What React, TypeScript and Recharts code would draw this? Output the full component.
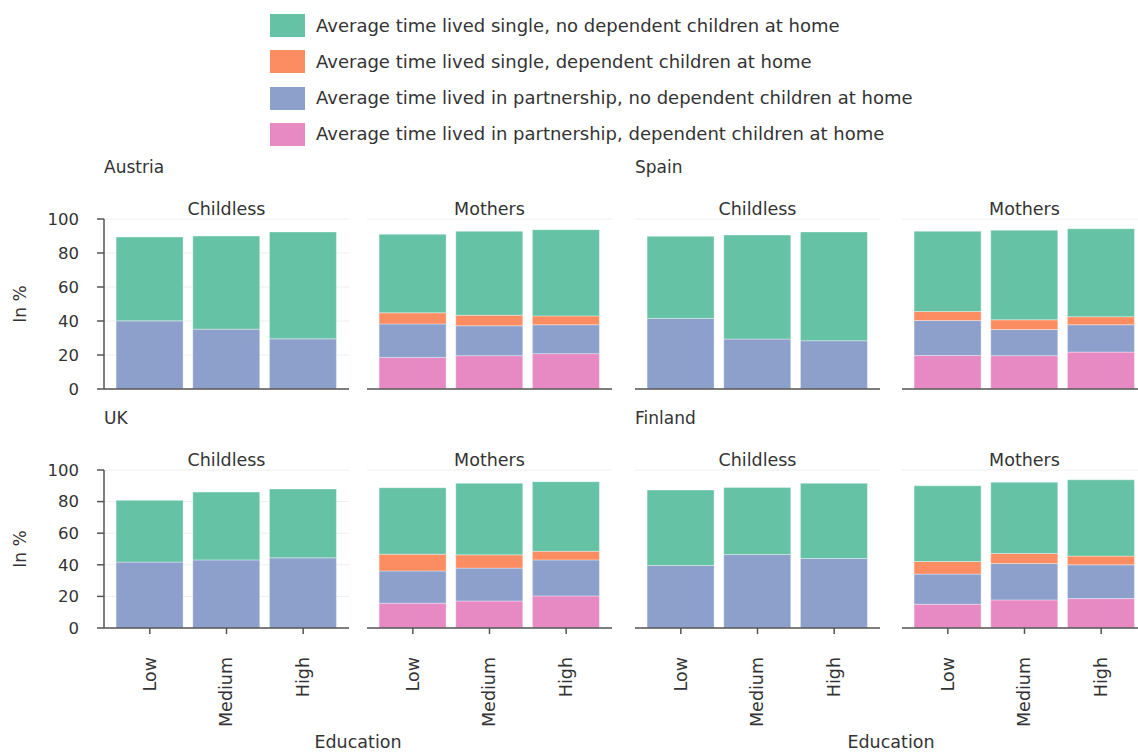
import React from "react";
import { BarChart, Bar, XAxis, YAxis, CartesianGrid } from "recharts";

const FONT = "'DejaVu Sans', sans-serif";
const TEXT = "#333333";
const AXIS = "#555555";

const categories = ["Low", "Medium", "High"];
const seriesNames = [
  "Average time lived single, no dependent children at home",
  "Average time lived single, dependent children at home",
  "Average time lived in partnership, no dependent children at home",
  "Average time lived in partnership, dependent children at home",
];
const seriesKeys = ["singleNoKids", "singleKids", "partnerNoKids", "partnerKids"];
const seriesColors = ["#66c2a5", "#fc8d62", "#8da0cb", "#e78ac3"];
const yTicks = [0, 20, 40, 60, 80, 100];

// Austria
const austriaChildlessPartnerKids = [0, 0, 0];
const austriaChildlessPartnerNoKids = [40.1, 35.2, 29.5];
const austriaChildlessSingleKids = [0, 0, 0];
const austriaChildlessSingleNoKids = [49.3, 54.8, 62.9];
const austriaMothersPartnerKids = [18.6, 19.6, 20.8];
const austriaMothersPartnerNoKids = [19.7, 17.6, 17.0];
const austriaMothersSingleKids = [6.5, 6.2, 5.2];
const austriaMothersSingleNoKids = [46.2, 49.4, 50.7];

// Spain
const spainChildlessPartnerKids = [0, 0, 0];
const spainChildlessPartnerNoKids = [41.5, 29.4, 28.4];
const spainChildlessSingleKids = [0, 0, 0];
const spainChildlessSingleNoKids = [48.3, 61.2, 64.0];
const spainMothersPartnerKids = [19.7, 19.6, 21.7];
const spainMothersPartnerNoKids = [20.6, 15.4, 16.1];
const spainMothersSingleKids = [5.3, 5.7, 4.7];
const spainMothersSingleNoKids = [47.2, 52.7, 51.8];

// UK
const ukChildlessPartnerKids = [0, 0, 0];
const ukChildlessPartnerNoKids = [41.7, 43.1, 44.4];
const ukChildlessSingleKids = [0, 0, 0];
const ukChildlessSingleNoKids = [39.1, 42.9, 43.6];
const ukMothersPartnerKids = [15.7, 17.1, 20.3];
const ukMothersPartnerNoKids = [20.4, 20.8, 22.8];
const ukMothersSingleKids = [10.6, 8.4, 5.5];
const ukMothersSingleNoKids = [42.1, 45.3, 44.0];

// Finland
const finlandChildlessPartnerKids = [0, 0, 0];
const finlandChildlessPartnerNoKids = [39.6, 46.5, 44.0];
const finlandChildlessSingleKids = [0, 0, 0];
const finlandChildlessSingleNoKids = [47.7, 42.5, 47.6];
const finlandMothersPartnerKids = [15.0, 17.8, 18.6];
const finlandMothersPartnerNoKids = [19.1, 23.0, 21.4];
const finlandMothersSingleKids = [8.0, 6.4, 5.5];
const finlandMothersSingleNoKids = [47.9, 45.0, 48.3];

function build(pk: number[], pnk: number[], sk: number[], snk: number[]) {
  return categories.map((c, i) => ({
    edu: c,
    partnerKids: pk[i],
    partnerNoKids: pnk[i],
    singleKids: sk[i],
    singleNoKids: snk[i],
  }));
}

const RotTick = (props: any) => {
  const { x, y, payload } = props;
  return (
    <text
      transform={`translate(${x},${y + 21}) rotate(-90)`}
      textAnchor="end"
      dy="0.33em"
      fontSize={17.5}
      fill={TEXT}
      fontFamily={FONT}
    >
      {payload.value}
    </text>
  );
};

function Panel(props: {
  data: any[];
  left: number;
  top: number;
  plotW: number;
  plotH: number;
  yLabels?: boolean;
  yLine?: boolean;
  xTicks?: boolean;
  title: string;
}) {
  const { data, left, top, plotW, plotH, yLabels, yLine, xTicks, title } = props;
  const mL = 100;
  const mT = 14;
  const mR = 4;
  const mB = xTicks ? 0 : 14;
  const xAxisH = xTicks ? 110 : 2;
  const chartW = plotW + mL + mR;
  const chartH = plotH + mT + xAxisH + mB;
  const stackOrder = [3, 2, 1, 0];
  return (
    <>
      <div
        style={{
          position: "absolute",
          left: left,
          width: plotW,
          top: top - 20,
          textAlign: "center",
          fontSize: 17.5,
          lineHeight: "20px",
          color: TEXT,
          fontFamily: FONT,
        }}
      >
        {title}
      </div>
      <div style={{ position: "absolute", left: left - mL, top: top - mT }}>
        <BarChart
          width={chartW}
          height={chartH}
          data={data}
          margin={{ top: mT, right: mR, left: yLabels ? 0 : mL, bottom: mB }}
          barCategoryGap="6%"
        >
          <CartesianGrid vertical={false} stroke="#eeeeee" strokeWidth={1} />
          <XAxis
            dataKey="edu"
            padding={{ left: 7.5, right: 7.5 }}
            height={xAxisH}
            interval={0}
            tick={xTicks ? <RotTick /> : false}
            tickLine={xTicks ? { stroke: AXIS, strokeWidth: 1.5 } : false}
            tickSize={6}
            axisLine={{ stroke: AXIS, strokeWidth: 1.5 }}
          />
          <YAxis
            domain={[0, 100]}
            ticks={yTicks}
            hide={!yLabels && !yLine}
            width={yLabels ? mL : 0}
            tick={yLabels ? { fontSize: 16.5, fill: TEXT, fontFamily: FONT } : false}
            tickLine={yLabels ? { stroke: AXIS, strokeWidth: 1.5 } : false}
            tickSize={7}
            tickMargin={18}
            axisLine={{ stroke: AXIS, strokeWidth: 1.5 }}
          />
          {stackOrder.map((si) => (
            <Bar
              key={seriesKeys[si]}
              dataKey={seriesKeys[si]}
              stackId="a"
              fill={seriesColors[si]}
              stroke="#ffffff"
              strokeOpacity={0.35}
              strokeWidth={1}
              isAnimationActive={false}
            />
          ))}
        </BarChart>
      </div>
    </>
  );
}

const label = (text: string, left: number, top: number, size = 17) => (
  <div
    style={{
      position: "absolute",
      left,
      top,
      fontSize: size,
      lineHeight: "20px",
      color: TEXT,
      fontFamily: FONT,
      whiteSpace: "nowrap",
    }}
  >
    {text}
  </div>
);

const rotLabel = (text: string, cx: number, cy: number) => (
  <div
    style={{
      position: "absolute",
      left: cx - 40,
      top: cy - 10,
      width: 80,
      textAlign: "center",
      fontSize: 17,
      lineHeight: "20px",
      color: TEXT,
      fontFamily: FONT,
      transform: "rotate(-90deg)",
    }}
  >
    {text}
  </div>
);

export default function App() {
  const topY = 219;
  const topH = 170;
  const botY = 470;
  const botH = 158;
  const cols = [104, 367, 635, 902];
  const pw = 245;
  return (
    <div
      style={{
        position: "absolute",
        left: 0,
        top: 0,
        width: 1138,
        height: 753,
        overflow: "hidden",
        background: "#fff",
        fontFamily: FONT,
      }}
    >
      {seriesNames.map((n, i) => (
        <div key={n}>
          <div
            style={{
              position: "absolute",
              left: 270,
              top: 14 + i * 36.3,
              width: 35,
              height: 23,
              background: seriesColors[i],
            }}
          />
          {label(n, 316, 15.5 + i * 36.3, 18)}
        </div>
      ))}

      {label("Austria", 104, 157)}
      {label("Spain", 635, 157)}
      {label("UK", 104, 408)}
      {label("Finland", 635, 408)}

      {rotLabel("In %", 20, 304)}
      {rotLabel("In %", 20, 549)}

      <Panel
        title="Childless"
        data={build(austriaChildlessPartnerKids, austriaChildlessPartnerNoKids, austriaChildlessSingleKids, austriaChildlessSingleNoKids)}
        left={cols[0]} top={topY} plotW={pw} plotH={topH} yLabels
      />
      <Panel
        title="Mothers"
        data={build(austriaMothersPartnerKids, austriaMothersPartnerNoKids, austriaMothersSingleKids, austriaMothersSingleNoKids)}
        left={cols[1]} top={topY} plotW={pw} plotH={topH}
      />
      <Panel
        title="Childless"
        data={build(spainChildlessPartnerKids, spainChildlessPartnerNoKids, spainChildlessSingleKids, spainChildlessSingleNoKids)}
        left={cols[2]} top={topY} plotW={pw} plotH={topH} yLine
      />
      <Panel
        title="Mothers"
        data={build(spainMothersPartnerKids, spainMothersPartnerNoKids, spainMothersSingleKids, spainMothersSingleNoKids)}
        left={cols[3]} top={topY} plotW={pw} plotH={topH}
      />
      <Panel
        title="Childless"
        data={build(ukChildlessPartnerKids, ukChildlessPartnerNoKids, ukChildlessSingleKids, ukChildlessSingleNoKids)}
        left={cols[0]} top={botY} plotW={pw} plotH={botH} yLabels xTicks
      />
      <Panel
        title="Mothers"
        data={build(ukMothersPartnerKids, ukMothersPartnerNoKids, ukMothersSingleKids, ukMothersSingleNoKids)}
        left={cols[1]} top={botY} plotW={pw} plotH={botH} xTicks
      />
      <Panel
        title="Childless"
        data={build(finlandChildlessPartnerKids, finlandChildlessPartnerNoKids, finlandChildlessSingleKids, finlandChildlessSingleNoKids)}
        left={cols[2]} top={botY} plotW={pw} plotH={botH} yLine xTicks
      />
      <Panel
        title="Mothers"
        data={build(finlandMothersPartnerKids, finlandMothersPartnerNoKids, finlandMothersSingleKids, finlandMothersSingleNoKids)}
        left={cols[3]} top={botY} plotW={pw} plotH={botH} xTicks
      />

      <div style={{ position: "absolute", left: cols[0], width: cols[1] + pw - cols[0], top: 732, textAlign: "center", fontSize: 17.5, lineHeight: "20px", color: TEXT }}>
        Education
      </div>
      <div style={{ position: "absolute", left: cols[2], width: cols[3] + pw - cols[2], top: 732, textAlign: "center", fontSize: 17.5, lineHeight: "20px", color: TEXT }}>
        Education
      </div>
    </div>
  );
}
